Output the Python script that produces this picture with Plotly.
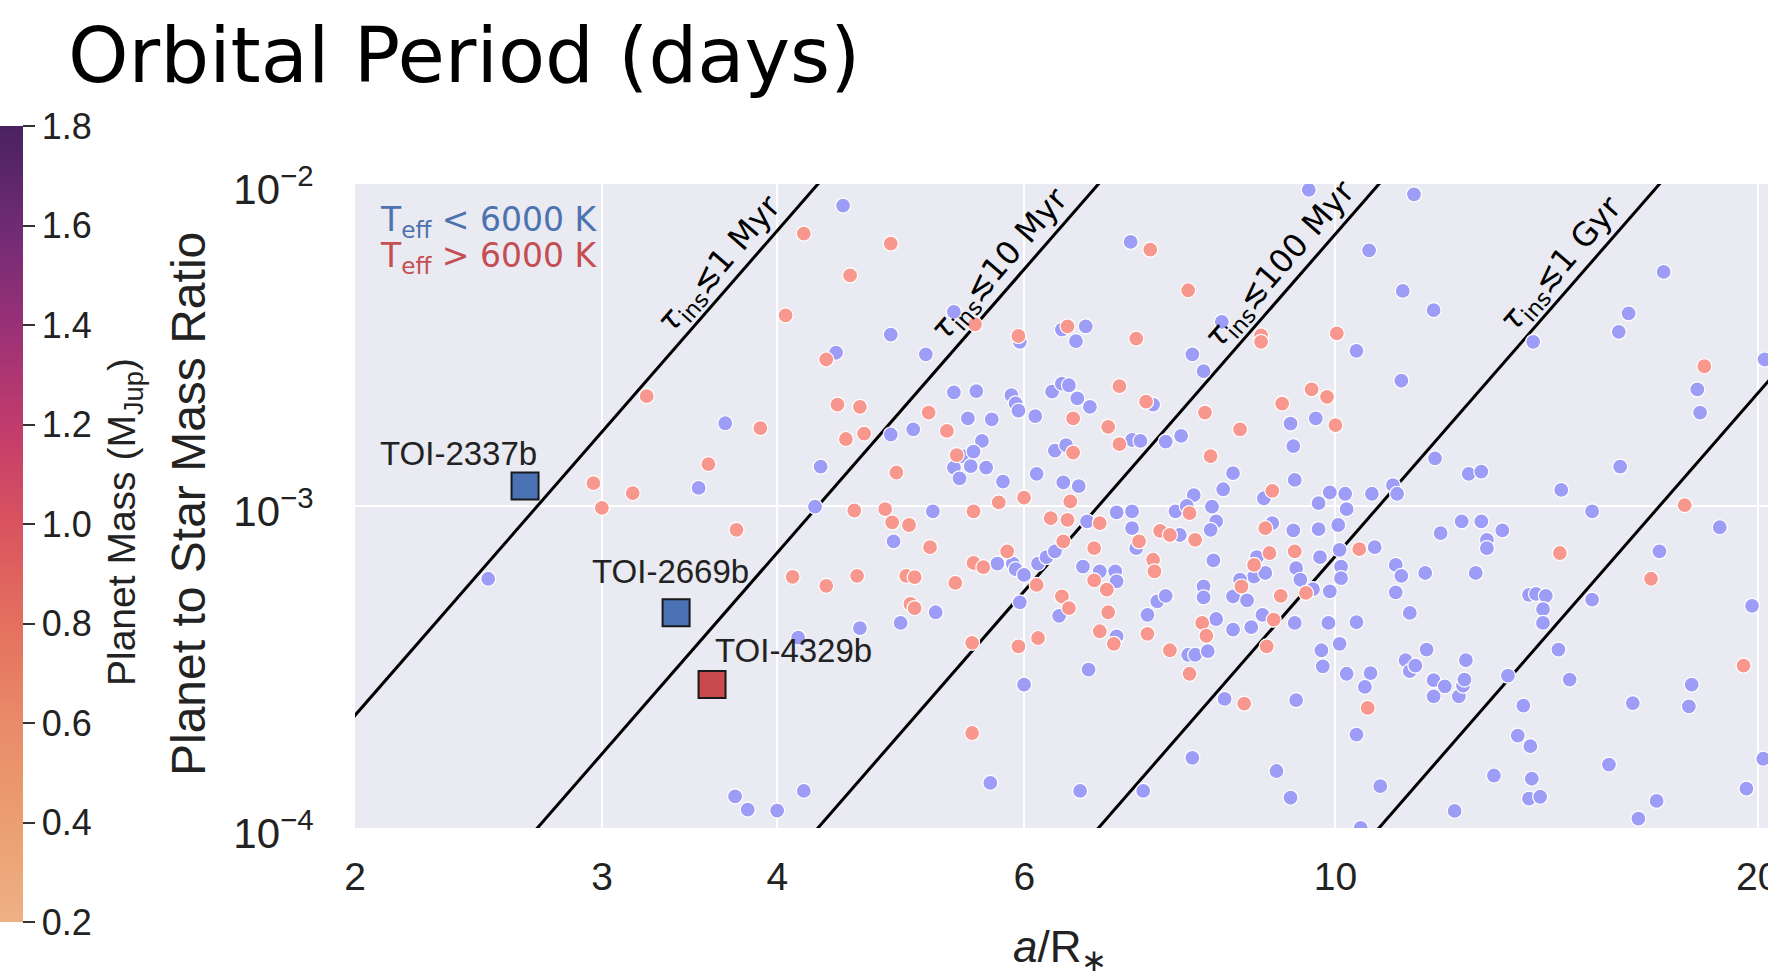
import numpy as np
import plotly.graph_objects as go

# ---------------- data (log10 values) ----------------
blue_log_aR = [
    0.565, 0.546, 0.396, 0.617, 0.572, 0.581, 0.602,
    0.649, 0.683, 0.644, 0.708, 0.728, 0.775, 0.854, 0.805, 0.822, 0.815, 0.919, 0.898, 0.906,
    0.728, 0.744, 0.769, 0.772, 0.774, 0.786, 0.798, 0.805, 0.810, 0.816, 0.825, 0.870, 0.738,
    0.755, 0.683, 0.699, 0.748, 0.734, 0.742, 0.800, 0.808, 0.855, 0.861, 0.879, 0.890, 0.633,
    0.728, 0.740, 0.751,
    0.732, 0.763, 0.787, 0.806, 0.817, 0.927, 0.920, 0.899, 0.886, 0.894, 0.949, 0.629, 0.713,
    0.685, 0.823, 0.844, 0.855, 0.855, 0.858, 0.889, 0.912, 0.915, 0.911, 0.955, 0.759, 0.770,
    0.772, 0.778, 0.788, 0.794, 0.800, 0.913, 0.944, 0.942, 0.950, 0.932, 0.820, 0.832, 0.843,
    0.844, 0.906, 0.906, 0.927, 0.937, 0.715, 0.690, 0.661, 0.775, 0.803, 0.866, 0.873, 0.879,
    0.948, 0.915, 0.927, 0.940, 0.844, 0.895, 0.900, 0.909, 0.824, 0.778, 0.921, 0.898, 0.754,
    0.818, 0.863, 0.958, 0.621,
    0.981, 1.056, 1.024, 1.048, 1.070, 1.015, 1.047, 1.141, 1.234, 1.209, 1.202, 1.258, 1.260,
    1.306, 0.968, 0.986, 0.970, 1.071, 1.203,
    0.971, 0.996, 1.007, 0.988, 1.026, 1.041, 1.044, 1.008, 1.095, 1.104, 1.161, 1.183, 1.274,
    0.970, 0.988, 1.002, 1.075, 1.090, 1.104, 1.119, 1.108, 1.108, 1.028, 1.003, 1.004, 1.004,
    0.989, 0.972, 0.975, 0.984, 0.996, 1.043, 1.047, 1.043, 1.064, 1.100, 1.231, 1.053, 0.971,
    0.995, 1.015, 1.138, 1.143, 1.150, 1.148, 1.148, 1.183, 1.297, 0.990, 1.003, 0.991, 1.065,
    1.050, 1.053, 1.057, 1.093, 1.070, 1.078, 1.070, 1.088, 1.091, 1.092, 1.008, 1.025, 1.021,
    0.972, 1.123, 1.159, 1.167, 1.254, 1.252, 1.212, 1.134, 1.130, 1.139, 1.015, 0.968, 1.032,
    1.113, 1.140, 1.138, 1.146, 1.195, 1.229, 1.216, 1.085, 1.305, 1.293, 1.018,
]
blue_log_q = [
    -2.743, -2.944, -3.226, -3.409, -3.902, -3.943, -3.946,
    -2.067, -2.468, -2.524, -2.529, -2.397, -2.490, -2.180, -2.452, -2.442, -2.488, -2.428, -2.529, -2.581,
    -2.647, -2.643, -2.656, -2.681, -2.704, -2.721, -2.645, -2.620, -2.625, -2.666, -2.692, -2.685, -2.728,
    -2.731, -2.778, -2.762, -2.798, -2.845, -2.831, -2.828, -2.811, -2.795, -2.798, -2.800, -2.782, -2.878,
    -2.881, -2.876, -2.881,
    -2.914, -2.924, -2.900, -2.927, -2.938, -2.898, -2.948, -2.966, -3.017, -3.000, -2.976, -3.002, -3.017,
    -3.110, -3.048, -3.020, -3.017, -3.069, -3.131, -3.090, -3.002, -3.048, -3.074, -3.053, -3.179, -3.179,
    -3.196, -3.214, -3.179, -3.159, -3.141, -3.169, -3.159, -3.219, -3.208, -3.229, -3.188, -3.203, -3.203,
    -3.234, -3.250, -3.284, -3.281, -3.293, -3.330, -3.363, -3.379, -3.299, -3.341, -3.338, -3.296, -3.279,
    -3.338, -3.351, -3.384, -3.376, -3.405, -3.462, -3.462, -3.451, -3.508, -3.555, -3.599, -3.782, -3.860,
    -3.885, -3.885, -3.823, -3.885,
    -2.018, -2.032, -2.206, -2.332, -2.392, -2.518, -2.611, -2.490, -2.273, -2.402, -2.459, -2.638, -2.710,
    -2.545, -2.744, -2.728, -2.814, -2.852, -2.878,
    -2.919, -2.958, -2.962, -2.991, -2.962, -2.935, -2.962, -3.010, -2.900, -2.893, -2.950, -3.017, -3.066,
    -3.076, -3.072, -3.059, -3.084, -3.048, -3.048, -3.076, -3.105, -3.131, -3.128, -3.136, -3.188, -3.224,
    -3.159, -3.193, -3.229, -3.258, -3.265, -3.183, -3.217, -3.268, -3.208, -3.208, -3.141, -3.332, -3.363,
    -3.363, -3.361, -3.276, -3.273, -3.279, -3.320, -3.363, -3.291, -3.310, -3.448, -3.428, -3.498, -3.446,
    -3.479, -3.513, -3.496, -3.479, -3.541, -3.560, -3.591, -3.591, -3.558, -3.539, -3.521, -3.519, -3.562,
    -3.603, -3.527, -3.446, -3.539, -3.555, -3.622, -3.612, -3.620, -3.713, -3.746, -3.710, -3.906, -3.870,
    -3.837, -3.847, -3.909, -3.903, -3.803, -3.916, -3.971, -3.947, -3.785, -3.878, -4.000,
]
red_log_aR = [
    0.608, 0.509, 0.590, 0.553, 0.471, 0.499, 0.477, 0.573, 0.613,
    0.621, 0.683, 0.654, 0.637, 0.743, 0.774, 0.868, 0.895, 0.809, 0.858, 0.947, 0.947, 0.846,
    0.865, 0.645, 0.661, 0.710, 0.813, 0.838, 0.907, 0.932, 0.651, 0.664, 0.723, 0.730, 0.813,
    0.846, 0.911,
    0.687, 0.896, 0.955, 0.778, 0.760, 0.811, 0.657, 0.679, 0.742, 0.684, 0.696, 0.711, 0.797,
    0.809, 0.832, 0.860, 0.875, 0.882, 0.900, 0.950, 0.766, 0.742, 0.749, 0.806, 0.828, 0.787,
    0.870, 0.871, 0.953, 0.942, 0.637, 0.659, 0.694, 0.700, 0.729, 0.828, 0.837, 0.933, 0.961,
    0.697, 0.700, 0.805, 0.810, 0.838, 0.956, 0.905, 0.908, 0.832, 0.842, 0.866, 0.882, 0.896,
    0.951, 0.741, 0.774, 0.788, 0.935, 0.741,
    1.001, 1.263, 0.983, 0.994, 0.962, 1.000,
    1.249, 0.971, 1.017, 0.979, 1.160, 1.225, 1.023, 1.291,
]
red_log_q = [
    -2.408, -2.659, -2.758, -2.870, -2.929, -2.960, -3.006, -3.074, -3.220,
    -2.154, -2.185, -2.284, -2.545, -2.436, -2.472, -2.204, -2.330, -2.442, -2.480, -2.470, -2.490, -2.628,
    -2.676, -2.685, -2.692, -2.710, -2.728, -2.754, -2.710, -2.762, -2.792, -2.775, -2.767, -2.842, -2.834,
    -2.808, -2.845,
    -2.896, -3.022, -2.953, -2.974, -2.989, -2.986, -3.014, -3.010, -3.017, -3.051, -3.059, -3.128, -3.038,
    -3.043, -3.053, -3.110, -3.077, -3.090, -3.105, -3.069, -3.141, -3.177, -3.190, -3.110, -3.131, -3.245,
    -3.167, -3.203, -3.146, -3.183, -3.248, -3.217, -3.217, -3.221, -3.239, -3.231, -3.260, -3.250, -3.279,
    -3.304, -3.317, -3.281, -3.317, -3.330, -3.353, -3.363, -3.403, -3.389, -3.428, -3.397, -3.448, -3.521,
    -3.436, -3.425, -3.436, -3.410, -3.614, -3.705,
    -2.464, -2.566, -2.638, -2.661, -2.682, -2.749,
    -2.997, -3.141, -3.134, -3.270, -3.146, -3.226, -3.627, -3.496,
]

toi_names = ["TOI-2337b", "TOI-2669b", "TOI-4329b"]
toi_aR = [2.644, 3.388, 3.594]
toi_q = [1.153e-3, 4.66e-4, 2.79e-4]
toi_hot = [False, False, True]

# inspiral-time lines: q = (a/R*)^5 / (K * tau[Myr])
tau_myr = [1, 10, 100, 1000, 10000]
tau_text = ["1 Myr", "10 Myr", "100 Myr", "1 Gyr", None]
K_1MYR = 1.43e5

x_ticks = [2, 3, 4, 6, 10, 20]
y_ticks = [1e-4, 1e-3, 1e-2]
cbar_ticks = [0.2, 0.4, 0.6, 0.8, 1.0, 1.2, 1.4, 1.6, 1.8]

# ---------------- layout geometry ----------------
W, H = 1768, 980
ML, MR, MT, MB = 355, 0, 184, 152
PW, PH = W - ML - MR, H - MT - MB
XR = [np.log10(2), 1.3084]
YR = [-4, -2]

def pxx(px):
    return (px - ML) / PW

def pxy(py):
    return (H - MB - py) / PH

BLUE_DOT = "#9d9df7"
RED_DOT = "#f8978e"
SANS = "Liberation Sans, Arial, Helvetica, sans-serif"
DEJAVU = "DejaVu Sans, Verdana, sans-serif"

flare = [
    [0.00, "#eeb183"], [0.12, "#eb9f72"], [0.25, "#e98b68"], [0.37, "#e4715f"],
    [0.50, "#d9535f"], [0.62, "#c23c6c"], [0.75, "#993177"], [0.87, "#702b74"],
    [1.00, "#4a2260"],
]

fig = go.Figure()

# theory lines
aR_line = np.geomspace(1.5, 25, 60)
for tau in tau_myr:
    fig.add_trace(go.Scatter(
        x=aR_line, y=aR_line ** 5 / (K_1MYR * tau), mode="lines",
        line=dict(color="black", width=3), hoverinfo="skip", showlegend=False))

# scatter points
fig.add_trace(go.Scatter(
    x=10 ** np.array(blue_log_aR), y=10 ** np.array(blue_log_q), mode="markers",
    marker=dict(size=15, color=BLUE_DOT, line=dict(color="white", width=1.2)),
    showlegend=False))
fig.add_trace(go.Scatter(
    x=10 ** np.array(red_log_aR), y=10 ** np.array(red_log_q), mode="markers",
    marker=dict(size=15, color=RED_DOT, line=dict(color="white", width=1.2)),
    showlegend=False))

# TOI squares
fig.add_trace(go.Scatter(
    x=toi_aR, y=toi_q, mode="markers",
    marker=dict(symbol="square", size=27,
                color=["#c84a4c" if h else "#4a72b5" for h in toi_hot],
                line=dict(color="#1a1a1a", width=2)),
    showlegend=False))

# colorbar (planet mass scale)
fig.add_trace(go.Scatter(
    x=[1, 1], y=[1e-5, 1e-5], mode="markers",
    marker=dict(color=[0.2, 1.8], cmin=0.2, cmax=1.8, colorscale=flare, showscale=True,
                colorbar=dict(
                    xref="container", x=0, xanchor="left", xpad=0,
                    yref="paper", y=pxy(524), yanchor="middle", ypad=0,
                    lenmode="pixels", len=796, thicknessmode="pixels", thickness=23,
                    outlinewidth=0, ticks="outside", ticklen=12, tickwidth=2, tickcolor="#333",
                    tickvals=cbar_ticks, ticktext=[f"{v:.1f}" for v in cbar_ticks],
                    ticklabeloverflow="allow",
                    tickfont=dict(family=SANS, size=36, color="#222"))),
    hoverinfo="skip", showlegend=False))

annotations = []
# line labels
q_lab = 10 ** -2.2527
for tau, txt in zip(tau_myr, tau_text):
    if txt is None:
        continue
    a_lab = (q_lab * K_1MYR * tau) ** 0.2
    annotations.append(dict(
        x=np.log10(a_lab), y=np.log10(q_lab), xref="x", yref="y", showarrow=False,
        xshift=-27, textangle=-49,
        text=f"<i>τ</i><sub>ins</sub>≲{txt}",
        font=dict(family=DEJAVU, size=32, color="black")))

# TOI labels
toi_shift = [(-67, 33), (-6, 41), (81, 34)]
for name, a, q, (dx, dy) in zip(toi_names, toi_aR, toi_q, toi_shift):
    annotations.append(dict(
        x=np.log10(a), y=np.log10(q), xref="x", yref="y", showarrow=False,
        xshift=dx, yshift=dy, text=name,
        font=dict(family=SANS, size=33, color="#222")))

# Teff legend text
annotations.append(dict(
    x=pxx(378), y=pxy(222), xref="paper", yref="paper", xanchor="left", yanchor="middle",
    showarrow=False, text="T<sub>eff</sub> &lt; 6000 K",
    font=dict(family=DEJAVU, size=33, color="#4c72b0")))
annotations.append(dict(
    x=pxx(378), y=pxy(257), xref="paper", yref="paper", xanchor="left", yanchor="middle",
    showarrow=False, text="T<sub>eff</sub> &gt; 6000 K",
    font=dict(family=DEJAVU, size=33, color="#c44e52")))

# title
annotations.append(dict(
    x=pxx(66), y=pxy(55), xref="paper", yref="paper", xanchor="left", yanchor="middle",
    showarrow=False, text="Orbital Period (days)",
    font=dict(family=DEJAVU, size=77, color="black")))

# axis titles
annotations.append(dict(
    x=pxx(188), y=pxy(504), xref="paper", yref="paper", xanchor="center", yanchor="middle",
    showarrow=False, textangle=-90, text="Planet to Star Mass Ratio",
    font=dict(family=SANS, size=48, color="#222")))
annotations.append(dict(
    x=pxx(124), y=pxy(522), xref="paper", yref="paper", xanchor="center", yanchor="middle",
    showarrow=False, textangle=-90, text="Planet Mass (M<sub>Jup</sub>)",
    font=dict(family=SANS, size=39, color="#222")))
annotations.append(dict(
    x=pxx(1060), y=pxy(950), xref="paper", yref="paper", xanchor="center", yanchor="middle",
    showarrow=False, text="<i>a</i>/R<sub>∗</sub>",
    font=dict(family=SANS, size=44, color="#222")))

fig.update_layout(
    width=W, height=H, margin=dict(l=ML, r=MR, t=MT, b=MB, pad=0),
    paper_bgcolor="white", plot_bgcolor="#eaeaf2",
    showlegend=False, annotations=annotations,
)
fig.update_xaxes(
    type="log", range=XR, tickvals=x_ticks, ticktext=[str(v) for v in x_ticks],
    showgrid=True, gridcolor="white", gridwidth=2, zeroline=False, showline=False,
    ticks="outside", ticklen=14, tickcolor="rgba(0,0,0,0)", automargin=False,
    ticklabeloverflow="allow",
    tickfont=dict(family=SANS, size=39, color="#222"))
fig.update_yaxes(
    type="log", range=YR, tickvals=y_ticks,
    ticktext=["10<sup>−4</sup>", "10<sup>−3</sup>", "10<sup>−2</sup>"],
    showgrid=True, gridcolor="white", gridwidth=2, zeroline=False, showline=False,
    ticks="outside", ticklen=32, tickcolor="rgba(0,0,0,0)", automargin=False,
    ticklabeloverflow="allow", ticklabelshift=5,
    tickfont=dict(family=SANS, size=42, color="#222"))

fig.write_html("out.html")
